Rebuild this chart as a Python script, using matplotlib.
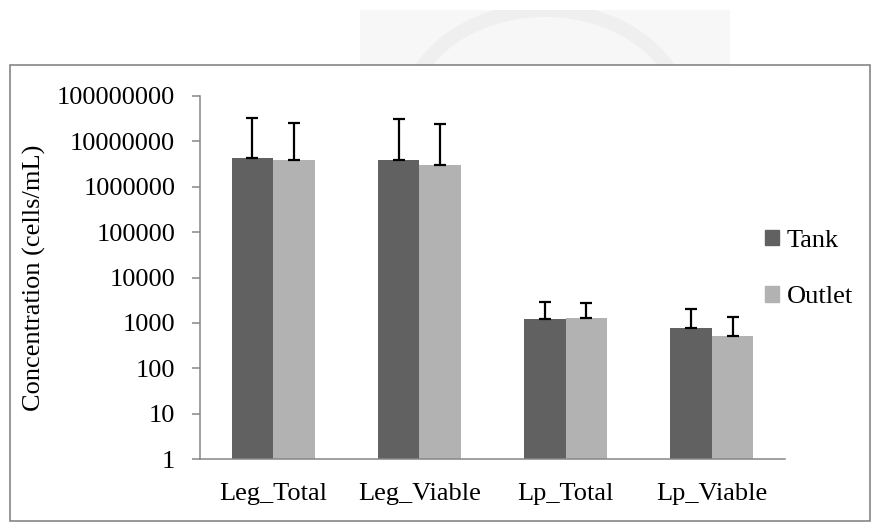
import matplotlib
matplotlib.use("Agg")
import matplotlib.pyplot as plt
from matplotlib.patches import Patch, Rectangle, Ellipse
import numpy as np

categories = ["Leg_Total", "Leg_Viable", "Lp_Total", "Lp_Viable"]
series = ["Tank", "Outlet"]

# mean concentrations (cells/mL)
tank_mean = [4.4e6, 3.9e6, 1230, 770]
outlet_mean = [3.8e6, 2.95e6, 1275, 520]
# upper error (SD) added on top of each mean
tank_err = [2.8e7, 2.7e7, 1640, 1210]
outlet_err = [2.1e7, 2.1e7, 1410, 800]

y_ticks = [1, 10, 100, 1000, 10000, 100000, 1000000, 10000000, 100000000]

TANK_COLOR = "#616161"
OUTLET_COLOR = "#b2b2b2"
AXIS_COLOR = "#868686"

plt.rcParams["font.family"] = ["Liberation Serif", "DejaVu Serif"]
plt.rcParams["font.size"] = 19

fig = plt.figure(figsize=(8.78, 5.28), dpi=100)
W, H = 878, 528

# faint stamp in the background above the chart frame
bg = fig.add_axes([0, 0, 1, 1], zorder=-5)
bg.set_xlim(0, W)
bg.set_ylim(H, 0)
bg.axis("off")
stamp_box = Rectangle((360, 10), 370, 60, facecolor="#f7f7f7", edgecolor="none")
bg.add_patch(stamp_box)
seal = Ellipse((545, 120), 280, 220, facecolor="none", edgecolor="#efefef", lw=10)
bg.add_patch(seal)
seal.set_clip_path(Rectangle((360, 10), 370, 60, transform=bg.transData))
bg.add_patch(Rectangle((10, 65), 860, 456, facecolor="white",
                       edgecolor=AXIS_COLOR, lw=1.2))

ax = fig.add_axes([200 / W, 1 - 459 / H, 585 / W, 363 / H])
ax.patch.set_alpha(0)

x = np.arange(len(categories))
w = 0.284
ax.bar(x - w / 2, tank_mean, w, color=TANK_COLOR, label=series[0], zorder=2)
ax.bar(x + w / 2, outlet_mean, w, color=OUTLET_COLOR, label=series[1], zorder=2)

err_kw = dict(fmt="none", ecolor="black", elinewidth=1.6, capsize=4.5,
              capthick=1.6, zorder=3)
ax.errorbar(x - w / 2, tank_mean, yerr=[np.zeros(4), tank_err], **err_kw)
ax.errorbar(x + w / 2, outlet_mean, yerr=[np.zeros(4), outlet_err], **err_kw)

ax.set_yscale("log")
ax.set_ylim(1, 1e8)
ax.set_xlim(-0.5, len(categories) - 0.5)
ax.set_yticks(y_ticks)
ax.set_yticklabels([str(v) for v in y_ticks])
ax.yaxis.set_minor_locator(matplotlib.ticker.NullLocator())
ax.set_xticks(x)
ax.set_xticklabels(categories)

ax.tick_params(axis="y", direction="out", length=5.8, width=1.1,
               color=AXIS_COLOR, pad=12)
ax.tick_params(axis="x", length=0, pad=17)

for side in ("top", "right"):
    ax.spines[side].set_visible(False)
for side in ("left", "bottom"):
    ax.spines[side].set_color(AXIS_COLOR)
    ax.spines[side].set_linewidth(1.1)

ax.set_ylabel("Concentration (cells/mL)")
ax.yaxis.set_label_coords((46 - 200) / 585, 0.5)

handles = [Patch(color=TANK_COLOR), Patch(color=OUTLET_COLOR)]
fig.legend(handles, series, loc="center left",
           bbox_to_anchor=(754 / W, 1 - 269 / H), frameon=False,
           handlelength=0.55, handleheight=0.55, handletextpad=0.3,
           labelspacing=1.3, borderaxespad=0)

fig.savefig("out.png", dpi=100)
